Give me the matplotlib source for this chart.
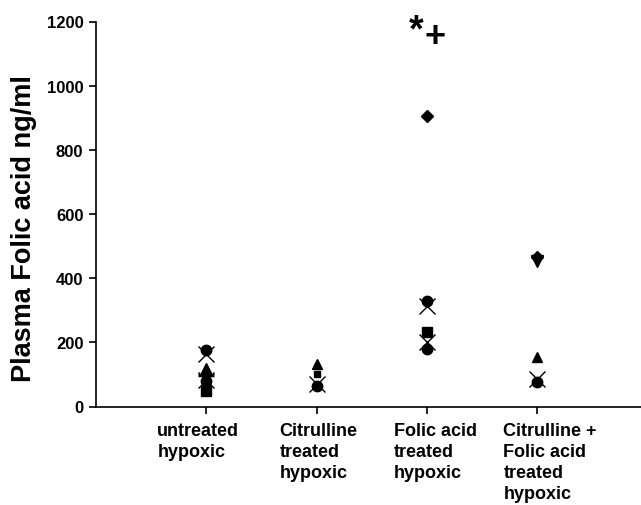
import numpy as np
import matplotlib
matplotlib.use("Agg")
import matplotlib.pyplot as plt
import matplotlib.transforms as mtransforms

plt.rcParams['font.family'] = ['Liberation Sans', 'DejaVu Sans']

categories = ["untreated\nhypoxic", "Citrulline\ntreated\nhypoxic",
              "Folic acid\ntreated\nhypoxic", "Citrulline +\nFolic acid\ntreated\nhypoxic"]
nan = np.nan
circle_a = [176, 64, 328, 76]
circle_b = [80, nan, 179, nan]
cross_a = [163, 70, 313, 86]
cross_b = [83, nan, 201, nan]
triangle = [120, 132, nan, 154]
square = [48, nan, 233, nan]
square_small = [nan, 101, nan, nan]
dash = [99, nan, nan, nan]
diamond = [nan, nan, 905, 465]
tri_down = [nan, nan, nan, 452]
annot_star = 1140   # baseline of the "*" symbol
annot_plus = 1165
annot_text = ["*", "+"]
yticks = [0, 200, 400, 600, 800, 1000, 1200]

fig = plt.figure(figsize=(6.41, 5.06), dpi=100)
ax = fig.add_axes([96/641, 98.5/506, 545/641, 385/506])
x = np.arange(1, len(categories) + 1)

k = dict(color='black', linestyle='none', zorder=3)
ax.plot(x, circle_a, marker='o', markersize=7.5, **k)
ax.plot(x, circle_b, marker='o', markersize=7.5, **k)
ax.plot(x, cross_a, marker='x', markersize=12, markeredgewidth=1.0, **k)
ax.plot(x, cross_b, marker='x', markersize=12, markeredgewidth=1.0, **k)
ax.plot(x, triangle, marker='^', markersize=7, **k)
ax.plot(x, square, marker='s', markersize=6.5, **k)
ax.plot(x, square_small, marker='s', markersize=4, **k)
ax.plot(x, dash, marker='_', markersize=12, markeredgewidth=2.5, **k)
ax.plot(x, diamond, marker='D', markersize=6.5, **k)
ax.plot(x, tri_down, marker='v', markersize=8, **k)

# significance symbols
ax.text(2.90, annot_star, annot_text[0], ha='center', va='baseline',
        fontsize=27, fontweight='bold', clip_on=False)
ax.text(3.07, annot_plus, annot_text[1], ha='center', va='center_baseline',
        fontsize=26, fontweight='bold', clip_on=False)

ax.set_xlim(0, 4.94)
ax.set_ylim(0, 1200)
ax.set_yticks(yticks)
ax.set_yticklabels([str(v) for v in yticks], fontsize=12, fontweight='bold')
ax.set_xticks(x)
ax.set_xticklabels([''] * len(categories))
# category labels: left-aligned blocks, left edges relative to ticks (pixels)
offsets_px = [-49, -37, -33, -34]
for xi, lab, dx in zip(x, categories, offsets_px):
    tr = ax.get_xaxis_transform() + mtransforms.ScaledTranslation(
        dx / 100, -16 / 100, fig.dpi_scale_trans)
    ax.text(xi, 0, lab, transform=tr, ha='left', va='top', fontsize=13,
            fontweight='bold', multialignment='left', linespacing=1.29, clip_on=False)
ax.tick_params(axis='both', direction='out', length=5, width=1.2, color='black')
ax.tick_params(axis='y', pad=4)
for s in ['top', 'right']:
    ax.spines[s].set_visible(False)
for s in ['left', 'bottom']:
    ax.spines[s].set_linewidth(1.2)
ax.set_ylabel("Plasma Folic acid ng/ml", fontsize=19.5, fontweight='bold')
ax.yaxis.set_label_coords(-0.108, 0.466)

fig.savefig("out.png", dpi=100)
